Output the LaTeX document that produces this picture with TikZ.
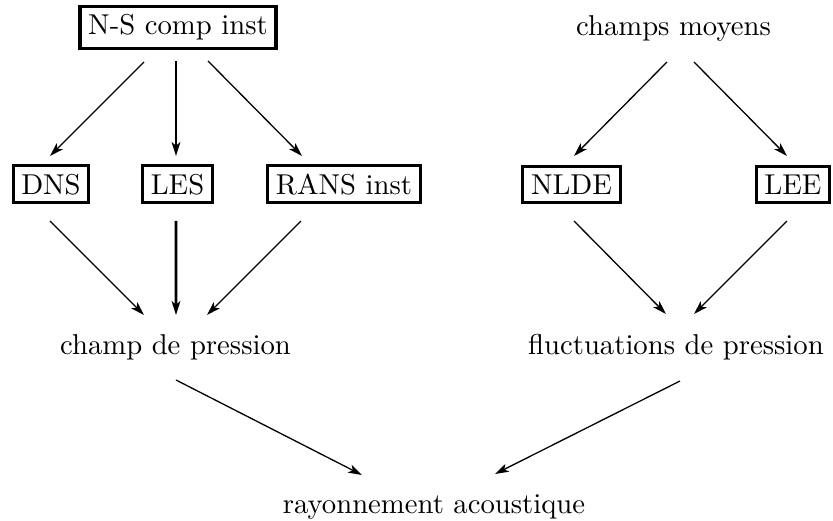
\documentclass[tikz,border=0pt]{standalone}
\usetikzlibrary{arrows.meta}
\tikzset{
  boxed/.style={draw,line width=1.1pt,inner sep=2.85pt,anchor=base},
  plain/.style={inner sep=0pt,anchor=base},
  arr/.style={line width=0.45pt,-{Stealth[length=4.8pt,width=3pt,inset=1.2pt]}},
  thickarr/.style={line width=0.9pt,-{Stealth[length=4.8pt,width=3pt,inset=1.2pt]}}
}
\begin{document}
\begin{tikzpicture}[x=0.3484pt,y=-0.3484pt]
\useasboundingbox (0,0) rectangle (833,521);
% row 1
\node[boxed] (ns) at (178,34.5) {N-S comp inst};
\node[plain] (cm) at (673.5,35) {champs moyens};
% row 2
\node[boxed] (dns) at (51,194) {DNS};
\node[boxed] (les) at (177.5,194) {LES};
\node[boxed] (rans) at (344,194) {RANS inst};
\node[boxed] (nlde) at (571.5,194) {NLDE};
\node[boxed] (lee) at (793,194) {LEE};
% row 3
\node[plain] (cp) at (175.5,354) {champ de pression};
\node[plain] (fp) at (676,354) {fluctuations de pression};
% row 4
\node[plain] (ray) at (434,513) {rayonnement acoustique};
% arrows
\draw[arr] ([shift={(-34,27.5)}]ns.base) -- ([shift={(-1,-38)}]dns.base);
\draw[thickarr] ([shift={(-2,26.5)}]ns.base) -- ([shift={(-1.5,-38)}]les.base);
\draw[arr] ([shift={(30,26.5)}]ns.base) -- ([shift={(-42,-38)}]rans.base);
\draw[arr] ([shift={(-6.5,27)}]cm.base) -- ([shift={(2.5,-38)}]nlde.base);
\draw[arr] ([shift={(20.5,27)}]cm.base) -- ([shift={(-6,-38)}]lee.base);
\draw[arr] ([shift={(-1,27)}]dns.base) -- ([shift={(-31.5,-39)}]cp.base);
\draw[thickarr] ([shift={(-1.5,27)}]les.base) -- ([shift={(0.5,-39)}]cp.base);
\draw[arr] ([shift={(-43,27)}]rans.base) -- ([shift={(31.5,-39)}]cp.base);
\draw[arr] ([shift={(2.5,27)}]nlde.base) -- ([shift={(-10,-40)}]fp.base);
\draw[arr] ([shift={(-6,27)}]lee.base) -- ([shift={(18,-40)}]fp.base);
\draw[arr] ([shift={(0.5,26)}]cp.base) -- ([shift={(-72,-38)}]ray.base);
\draw[arr] ([shift={(4,27)}]fp.base) -- ([shift={(61,-39)}]ray.base);
\end{tikzpicture}
\end{document}
